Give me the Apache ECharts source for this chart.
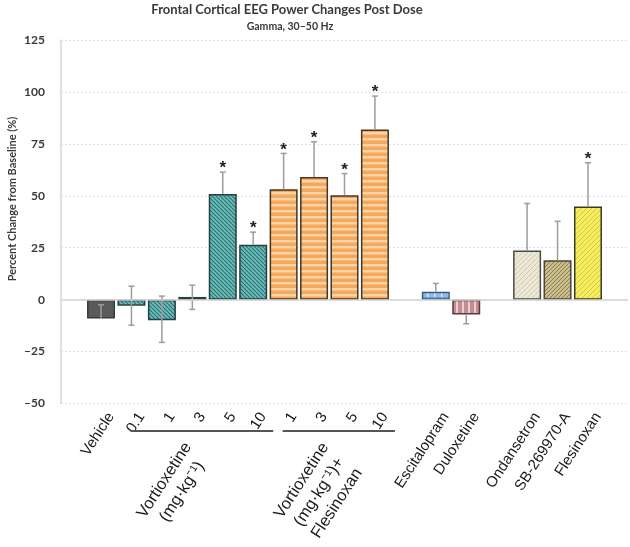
<!DOCTYPE html>
<html><head><meta charset="utf-8">
<script src="https://cdn.jsdelivr.net/npm/echarts@6/dist/echarts.min.js"></script>
<style>html,body{margin:0;padding:0;background:#fff}#c{width:630px;height:547px}</style>
</head><body><div id="c"></div>
<script>
// ---------------- data ----------------
const categories = ['Vehicle','0.1','1','3','5','10','1','3','5','10','','Escitalopram','Duloxetine','','Ondansetron','SB-269970-A','Flesinoxan'];
const values     = [-9.1,-2.9,-9.9,1.3,50.8,26.4,53.2,59.1,50.3,81.9,null,3.8,-7.1,null,23.7,19.0,44.9];
const errLow     = [-9.1,-12.3,-20.6,-4.7,50.8,26.4,53.2,59.1,50.3,81.9,null,3.8,-11.6,null,23.7,19.0,44.9];
const errHigh    = [-2.5,6.5,1.7,7.0,61.4,32.5,70.4,76.0,60.7,98.0,null,7.8,-7.1,null,46.3,37.7,65.9];
const significant= [0,0,0,0,1,1,1,1,1,1,0,0,0,0,0,0,1];
const yMin = -50, yMax = 125, yInterval = 25;
const groupLabels = ['Vortioxetine\n(mg·kg⁻¹)', 'Vortioxetine\n(mg·kg⁻¹)+\nFlesinoxan'];
const groupFrom = [1, 6];
const groupTo = [5, 9];
const titleText = 'Frontal Cortical EEG Power Changes Post Dose';
const subtitleText = 'Gamma, 30–50 Hz';
const yAxisTitle = 'Percent Change from Baseline (%)';

// ---------------- styles ----------------
const styleKeys = ['vehicle','teal','teal','teal','teal','teal','orange','orange','orange','orange',null,'esc','dul',null,'ond','sb','fles'];
function tile(w, h, bg, draw) {
  const c = document.createElement('canvas'); c.width = w; c.height = h;
  const g = c.getContext('2d'); g.fillStyle = bg; g.fillRect(0, 0, w, h); draw(g, w, h);
  return { image: c, repeat: 'repeat' };
}
function diag(color, lw, back) {
  return function (g, s) {
    g.strokeStyle = color; g.lineWidth = lw; g.beginPath();
    for (const k of [-s, 0, s]) {
      if (back) { g.moveTo(k, 0); g.lineTo(k + s, s); }
      else { g.moveTo(k, s); g.lineTo(k + s, 0); }
    }
    g.stroke();
  };
}
const styles = {
  vehicle: { color: '#5a5a5a', borderColor: '#3a3a3a' },
  teal: { color: tile(4, 4, '#6cbab8', diag('#2a7473', 1.1, true)), borderColor: '#263f3f' },
  orange: { color: tile(4, 6, '#f3a95d', function (g) { g.fillStyle = '#fbd3a4'; g.fillRect(0, 0, 4, 2.5); }), borderColor: '#4a3520' },
  esc: { color: tile(7, 7, '#8dbce7', function (g) { g.fillStyle = '#dcebf9'; g.fillRect(0, 0, 1.5, 7); g.fillStyle = '#6f9fcf'; g.fillRect(0, 3, 7, 1); }), borderColor: '#3a5a80' },
  dul: { color: tile(6, 6, '#c38d93', function (g) { g.fillStyle = '#eacfd2'; g.fillRect(0, 0, 2, 6); }), borderColor: '#5a3a3c' },
  ond: { color: tile(5, 5, '#ece8d8', diag('#d2cbb0', 1, false)), borderColor: '#4a4a44' },
  sb: { color: tile(4, 4, '#cabd8c', diag('#8c7f55', 1, false)), borderColor: '#4a4636' },
  fles: { color: tile(5, 5, '#f5ed62', diag('#d3c83a', 1, false)), borderColor: '#3c3a20' }
};

// ---------------- chart ----------------
const chart = echarts.init(document.getElementById('c'), null, { renderer: 'canvas' });
const GRID_TOP = 40, GRID_BOTTOM = 143.5;

const barData = values.map(function (v, i) {
  if (v == null) return null;
  const st = styles[styleKeys[i]];
  return { value: v, itemStyle: { color: st.color, borderColor: st.borderColor, borderWidth: 1.5 } };
});
const errData = [];
values.forEach(function (v, i) {
  if (v != null) errData.push([i, errLow[i], errHigh[i], v, significant[i]]);
});

chart.setOption({
  animation: false,
  backgroundColor: '#ffffff',
  grid: [
    { left: 61, right: 2, top: GRID_TOP, bottom: GRID_BOTTOM },
    { left: 85.8, right: 26.8, top: GRID_TOP, bottom: GRID_BOTTOM }
  ],
  xAxis: [
    { gridIndex: 0, type: 'value', min: 0, max: 1, show: false },
    { gridIndex: 1, type: 'category', data: categories, axisLine: { show: false }, axisTick: { show: false }, axisLabel: { show: false }, splitLine: { show: false } }
  ],
  yAxis: [
    { gridIndex: 0, type: 'value', min: yMin, max: yMax, interval: yInterval,
      axisLine: { show: true, lineStyle: { color: '#d6d6d6', width: 1.5 } },
      axisTick: { show: false },
      splitLine: { show: true, lineStyle: { color: '#e2e2e2', type: [2, 2], width: 1 } },
      axisLabel: { margin: 16, color: '#3a3a3a', fontFamily: 'Lato', fontWeight: 'bold', fontSize: 12,
        formatter: function (v) { return v < 0 ? '–' + Math.abs(v) : String(v); } } },
    { gridIndex: 1, type: 'value', min: yMin, max: yMax, interval: yInterval, show: false }
  ],
  series: [
    { type: 'line', xAxisIndex: 0, yAxisIndex: 0, data: [], silent: true,
      markLine: { silent: true, symbol: 'none', label: { show: false },
        lineStyle: { color: '#d2d2d2', type: 'solid', width: 1.5 }, data: [{ yAxis: 0 }] } },
    { type: 'bar', xAxisIndex: 1, yAxisIndex: 1, data: barData, barWidth: 28, z: 2 },
    { type: 'custom', xAxisIndex: 1, yAxisIndex: 1, data: errData, z: 3, encode: { x: 0, y: [1, 2] },
      renderItem: function (params, api) {
        const i = api.value(0), lo = api.value(1), hi = api.value(2), v = api.value(3), sig = api.value(4);
        const pLo = api.coord([i, lo]), pHi = api.coord([i, hi]);
        const x = pLo[0], cw = 3;
        const ls = { stroke: '#9c9c9c', lineWidth: 1.5 };
        const ch = [{ type: 'line', shape: { x1: x, y1: pLo[1], x2: x, y2: pHi[1] }, style: ls }];
        if (lo !== v) ch.push({ type: 'line', shape: { x1: x - cw, y1: pLo[1], x2: x + cw, y2: pLo[1] }, style: ls });
        if (hi !== v) ch.push({ type: 'line', shape: { x1: x - cw, y1: pHi[1], x2: x + cw, y2: pHi[1] }, style: ls });
        if (sig) ch.push({ type: 'text', x: x, y: Math.min(pLo[1], pHi[1]) + 5,
          style: { text: '*', font: 'bold 17px "Liberation Sans"', fill: '#222', align: 'center', verticalAlign: 'bottom' } });
        return { type: 'group', children: ch };
      } }
  ]
});

// ---------------- text / annotations positioned from the axis ----------------
const px = function (i) { return chart.convertToPixel({ xAxisIndex: 1 }, i); };
const ANG = 57 * Math.PI / 180;
const gfx = [];
gfx.push({ type: 'text', x: 287, y: 10, style: { text: titleText, font: 'bold 13px Lato', fill: '#3a3a3a', align: 'center', verticalAlign: 'middle' } });
gfx.push({ type: 'text', x: 290, y: 27, style: { text: subtitleText, font: 'bold 10.5px Lato', fill: '#3a3a3a', align: 'center', verticalAlign: 'middle' } });
gfx.push({ type: 'text', x: 12, y: 199, rotation: Math.PI / 2, style: { text: yAxisTitle, font: 'bold 11px Lato', fill: '#3a3a3a', align: 'center', verticalAlign: 'middle' } });
categories.forEach(function (c, i) {
  if (!c) return;
  gfx.push({ type: 'text', x: px(i) + 10, y: 414, rotation: ANG,
    style: { text: c, font: '15px "Liberation Sans"', fill: '#1a1a1a', align: 'right', verticalAlign: 'middle' } });
});
groupLabels.forEach(function (lab, g) {
  const x1 = px(groupFrom[g]) - 1, x2 = px(groupTo[g]) + 20;
  gfx.push({ type: 'line', shape: { x1: x1, y1: 431, x2: x2, y2: 431 }, style: { stroke: '#555', lineWidth: 2 } });
  let sum = 0; for (let k = groupFrom[g]; k <= groupTo[g]; k++) sum += px(k);
  const mean = sum / (groupTo[g] - groupFrom[g] + 1);
  const n = lab.split('\n').length;
  gfx.push({ type: 'text', x: mean - 19 + (n - 2) * 9, y: 486 + (n - 2) * 6, rotation: ANG,
    style: { text: lab, font: '16.5px "Liberation Sans"', lineHeight: 21, fill: '#1a1a1a', align: 'center', verticalAlign: 'middle' } });
});
chart.setOption({ graphic: gfx });
</script>
</body></html>
